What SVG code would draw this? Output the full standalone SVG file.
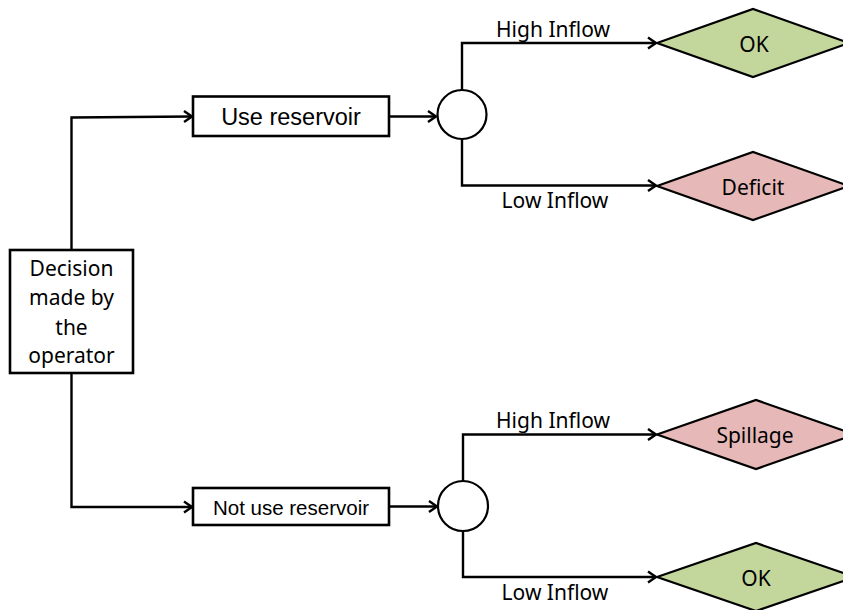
<svg xmlns="http://www.w3.org/2000/svg" width="843" height="610" viewBox="0 0 843 610">
<defs>
<marker id="arr" markerUnits="userSpaceOnUse" markerWidth="14" markerHeight="14" refX="11" refY="7" orient="auto" overflow="visible">
<path d="M3,1.5 L11,7 L3,12.5" fill="none" stroke="#000" stroke-width="2.4" stroke-linejoin="miter"/>
</marker>
<style>
.box{fill:#fff;stroke:#000;stroke-width:2.6}
.circ{fill:#fff;stroke:#000;stroke-width:2.2}
.good{fill:#C3D69B;stroke:#000;stroke-width:2.2}
.bad{fill:#E6B9B8;stroke:#000;stroke-width:2.2}
.ln{fill:none;stroke:#000;stroke-width:2.4}
.cal{font-family:"Noto Sans","Open Sans","Liberation Sans",sans-serif;font-size:21px;fill:#000;text-anchor:middle}
.ar{font-family:"Liberation Sans",Arial,sans-serif;fill:#000;text-anchor:middle}
</style>
</defs>
<rect width="843" height="610" fill="#fff"/>
<g id="connectors">
<polyline class="ln" points="71.5,250 71.5,117.5 192,116.5" marker-end="url(#arr)"/>
<line class="ln" x1="389" y1="116.5" x2="436" y2="116.5" marker-end="url(#arr)"/>
<polyline class="ln" points="462,90 462,43 656,43" marker-end="url(#arr)"/>
<polyline class="ln" points="462,139 462,185.5 656,185.5" marker-end="url(#arr)"/>
<polyline class="ln" points="71.5,373 71.5,507 192,507" marker-end="url(#arr)"/>
<line class="ln" x1="389" y1="506.5" x2="437" y2="506.5" marker-end="url(#arr)"/>
<polyline class="ln" points="463,481 463,434.5 656,434.5" marker-end="url(#arr)"/>
<polyline class="ln" points="463,531 463,577 656,577" marker-end="url(#arr)"/>
<text class="cal" x="553" y="37">High Inflow</text>
<text class="cal" x="555" y="207.5">Low Inflow</text>
<text class="cal" x="553" y="428">High Inflow</text>
<text class="cal" x="555" y="599.5">Low Inflow</text>
</g>
<g id="decision">
<rect class="box" x="10" y="250" width="123" height="123"/>
<text class="cal" x="71.5" y="276">Decision</text>
<text class="cal" x="71.5" y="305">made by</text>
<text class="cal" x="71.5" y="334.5">the</text>
<text class="cal" x="71.5" y="363">operator</text>
</g>
<g id="use-reservoir">
<rect class="box" x="193" y="96.5" width="196" height="39.5"/>
<text class="ar" x="291" y="125" font-size="23.5">Use reservoir</text>
</g>
<g id="not-use-reservoir">
<rect class="box" x="193" y="488" width="196" height="37"/>
<text class="ar" x="291" y="515" font-size="20.5">Not use reservoir</text>
</g>
<g id="chance-1">
<circle class="circ" cx="462" cy="114.5" r="24.5"/>
</g>
<g id="chance-2">
<circle class="circ" cx="463" cy="506" r="25"/>
</g>
<g id="ok-1">
<polygon class="good" points="657,43 753,9 849,43 753,77"/>
<text class="cal" x="754" y="52">OK</text>
</g>
<g id="deficit">
<polygon class="bad" points="657,186 753,152 849,186 753,220"/>
<text class="cal" x="753" y="195">Deficit</text>
</g>
<g id="spillage">
<polygon class="bad" points="657,434.5 756,400 855,434.5 756,469"/>
<text class="cal" x="755" y="443">Spillage</text>
</g>
<g id="ok-2">
<polygon class="good" points="657,577 756,543 855,577 756,611"/>
<text class="cal" x="756" y="586">OK</text>
</g>
</svg>
